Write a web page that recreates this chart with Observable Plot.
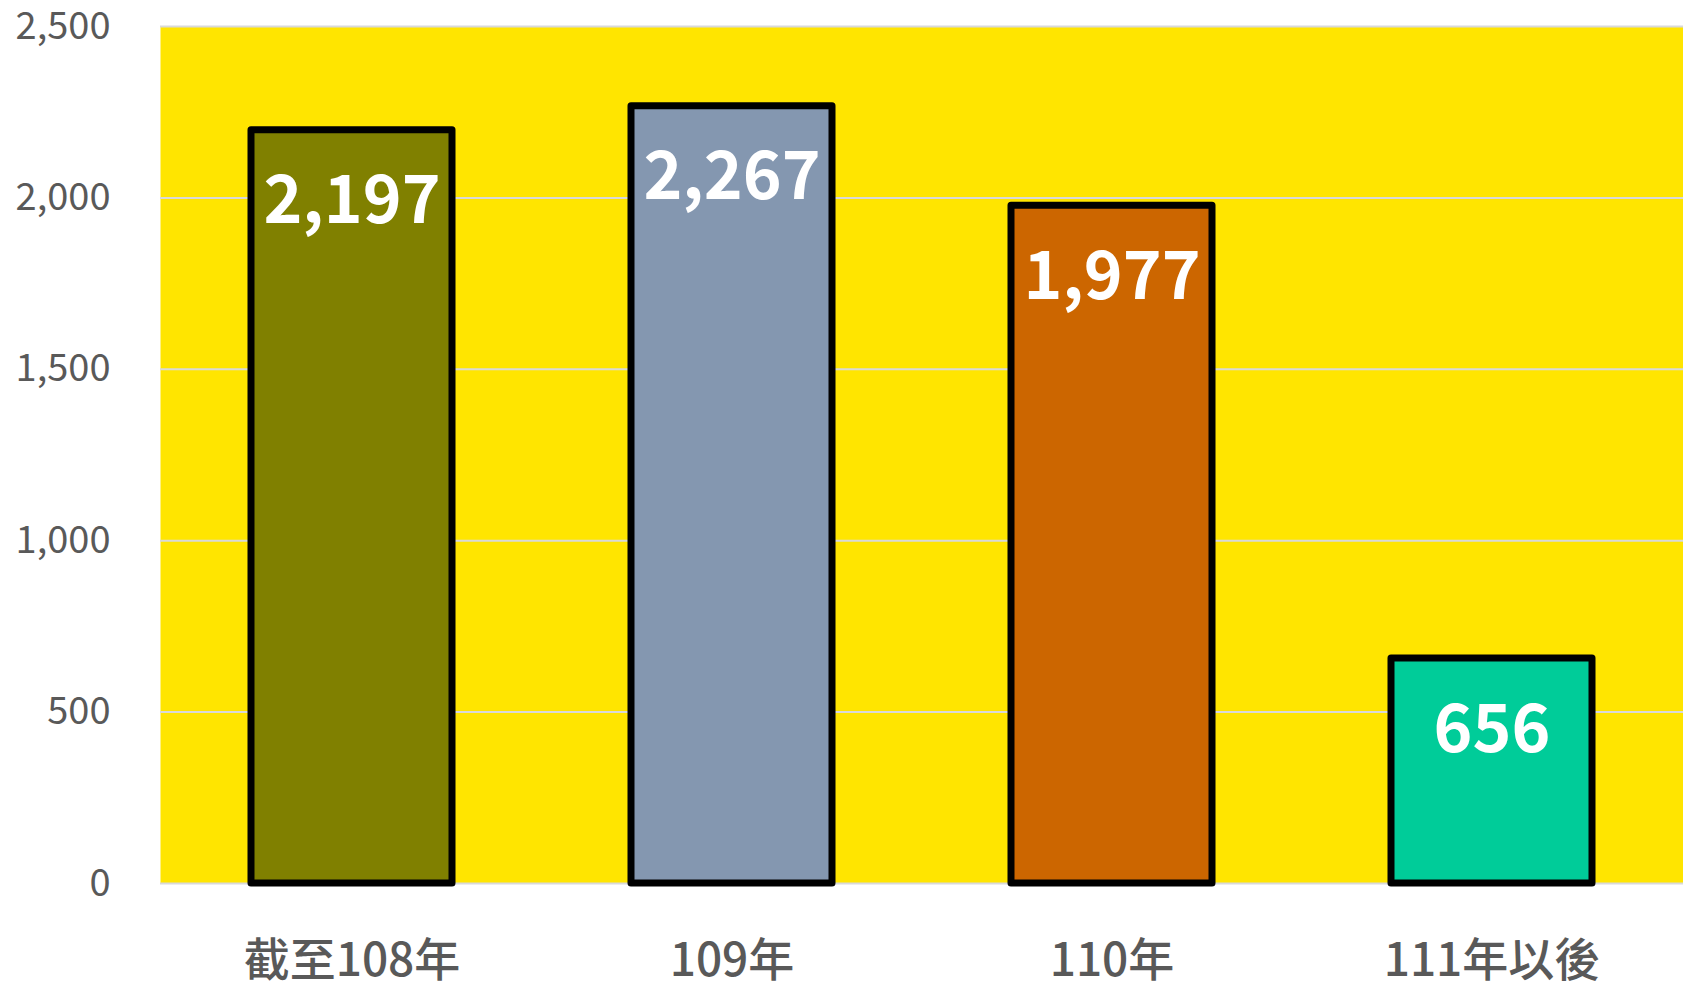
<!DOCTYPE html>
<html>
<head>
<meta charset="utf-8">
<script src="https://cdn.jsdelivr.net/npm/d3@7"></script>
<script src="https://cdn.jsdelivr.net/npm/@observablehq/plot@0.6"></script>
<style>
  html, body { margin: 0; padding: 0; background: #fff; }
</style>
</head>
<body>
<div id="chart"></div>
<script>
const categories = ["截至108年", "109年", "110年", "111年以後"];
const values = [2197, 2267, 1977, 656];
const barColors = ["#808000", "#8497B0", "#CC6600", "#00CC99"];
const yTicks = [0, 500, 1000, 1500, 2000, 2500];

const data = categories.map((c, i) => ({category: c, value: values[i], color: barColors[i]}));

const chart = Plot.plot({
  width: 1683,
  height: 983,
  marginLeft: 160,
  marginRight: 0,
  marginTop: 26,
  marginBottom: 100,
  style: {fontFamily: "'Noto Sans CJK TC', 'Noto Sans', sans-serif", background: "#fff"},
  x: {domain: categories, paddingInner: 0.47, paddingOuter: 0.235, label: null},
  y: {domain: [0, 2500], label: null},
  marks: [
    Plot.frame({fill: "#FFE500", stroke: null}),
    Plot.ruleY(yTicks, {stroke: "#D9D9D9", strokeWidth: 2}),
    Plot.barY(data, {
      x: "category", y: "value", fill: "color",
      stroke: "#000", strokeWidth: 7, strokeLinejoin: "round", inset: 0
    }),
    Plot.text(data, {
      x: "category", y: "value", text: d => d3.format(",")(d.value),
      dy: 72, fill: "#fff", fontSize: 66, fontWeight: "bold", lineAnchor: "middle"
    }),
    Plot.axisY({
      ticks: yTicks, tickSize: 0, tickPadding: 50, fontSize: 38,
      fill: "#595959", tickFormat: d3.format(","), label: null
    }),
    Plot.axisX({
      tickSize: 0, tickPadding: 78, fontSize: 46, fill: "#595959",
      lineAnchor: "middle", label: null, fontWeight: 500
    })
  ]
});
document.getElementById("chart").appendChild(chart);
</script>
</body>
</html>
